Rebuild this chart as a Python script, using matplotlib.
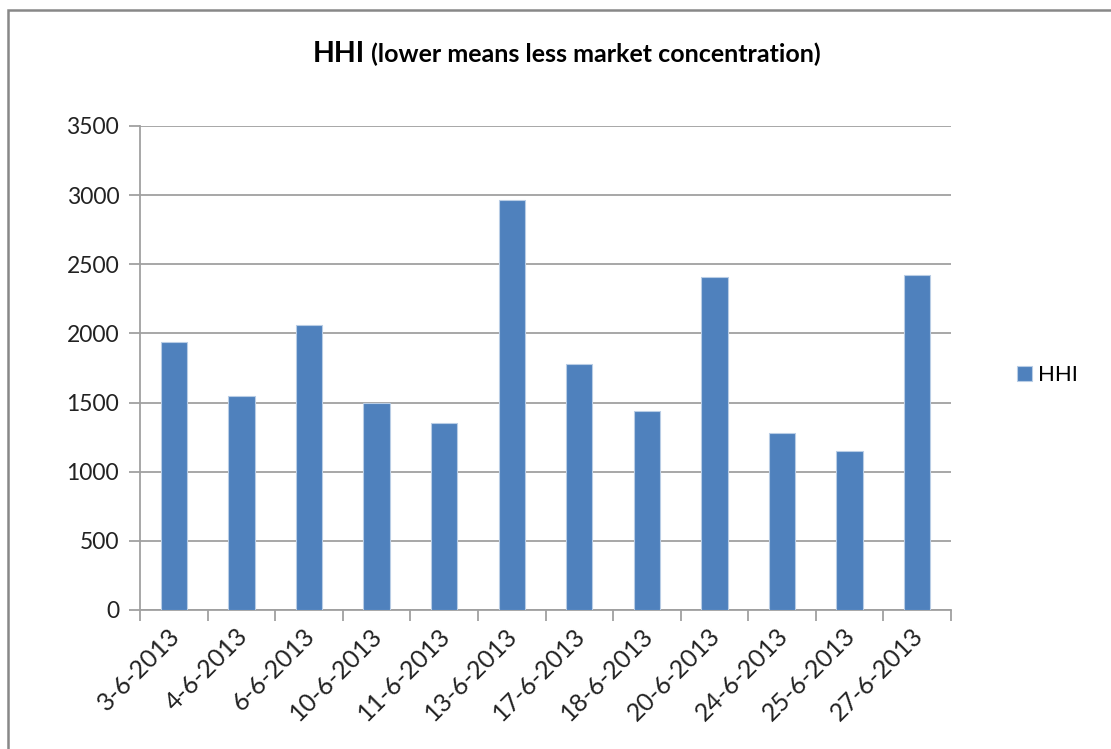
import matplotlib
matplotlib.use("Agg")
import matplotlib.pyplot as plt
import matplotlib.transforms as mtransforms
from matplotlib.offsetbox import TextArea, HPacker, AnchoredOffsetbox
from matplotlib.patches import Rectangle

dates = ["3-6-2013", "4-6-2013", "6-6-2013", "10-6-2013", "11-6-2013", "13-6-2013",
         "17-6-2013", "18-6-2013", "20-6-2013", "24-6-2013", "25-6-2013", "27-6-2013"]
hhi = [1938, 1550, 2060, 1497, 1355, 2965, 1780, 1440, 2405, 1282, 1152, 2420]
yticks = [0, 500, 1000, 1500, 2000, 2500, 3000, 3500]

plt.rcParams['font.family'] = ['Lato', 'DejaVu Sans']

W, H = 1111, 749
fig = plt.figure(figsize=(W / 100, H / 100), dpi=100)
ax = fig.add_axes([140 / W, 1 - 610 / H, (951 - 140) / W, (610 - 126) / H])

bar_color = "#4F81BD"
x = list(range(len(dates)))
ax.bar(x, hhi, width=0.39, color=bar_color, edgecolor="#B9CDE5", linewidth=0.8,
       label="HHI", zorder=3)

ax.set_xlim(-0.5, len(dates) - 0.5)
ax.set_ylim(0, 3500)
ax.set_yticks(yticks)
ax.set_yticklabels([str(v) for v in yticks], fontsize=16.5, color="#222222")
ax.yaxis.grid(True, color="#A0A0A0", linewidth=1.3, zorder=0)
ax.set_axisbelow(True)

ax.set_xticks([i - 0.5 for i in range(len(dates) + 1)], minor=False)
ax.set_xticklabels([])
ax.set_xticks(x, minor=True)
ax.set_xticklabels(dates, minor=True, rotation=45, ha="right",
                   rotation_mode="anchor", fontsize=18, color="#222222")
ax.tick_params(axis="x", which="major", length=8, width=1.3, color="#A0A0A0", direction="out")
ax.tick_params(axis="x", which="minor", length=0, pad=10)
ax.tick_params(axis="y", length=8, width=1.3, color="#A0A0A0", pad=7)
for lbl in ax.get_xticklabels(minor=True):
    lbl.set_transform(lbl.get_transform() + mtransforms.ScaledTranslation(-6 / 100, 0, fig.dpi_scale_trans))

for s in ["top", "right"]:
    ax.spines[s].set_visible(False)
for s in ["left", "bottom"]:
    ax.spines[s].set_color("#A0A0A0")
    ax.spines[s].set_linewidth(1.3)

# Title
t1 = TextArea("HHI", textprops=dict(fontsize=20.5, fontweight="bold", color="black"))
t2 = TextArea(" (lower means less market concentration)",
              textprops=dict(fontsize=18, fontweight="bold", color="black"))
box = HPacker(children=[t1, t2], align="baseline", pad=0, sep=0)
anch = AnchoredOffsetbox(loc="center", child=box, frameon=False,
                         bbox_to_anchor=(567 / W, 1 - 54 / H),
                         bbox_transform=fig.transFigure, pad=0, borderpad=0)
fig.add_artist(anch)

# Legend
fig.legend(loc="center left", bbox_to_anchor=(1010 / W, 1 - 375 / H), frameon=False,
           fontsize=16, handlelength=0.68, handleheight=0.68, handletextpad=0.3,
           borderaxespad=0, borderpad=0.3)

# Chart border
fig.add_artist(Rectangle((8 / W, -0.05), 1.2, 1 - 10 / H + 0.05, transform=fig.transFigure,
                         fill=False, edgecolor="#888888", linewidth=1.8))

fig.savefig("out.png", dpi=100)
